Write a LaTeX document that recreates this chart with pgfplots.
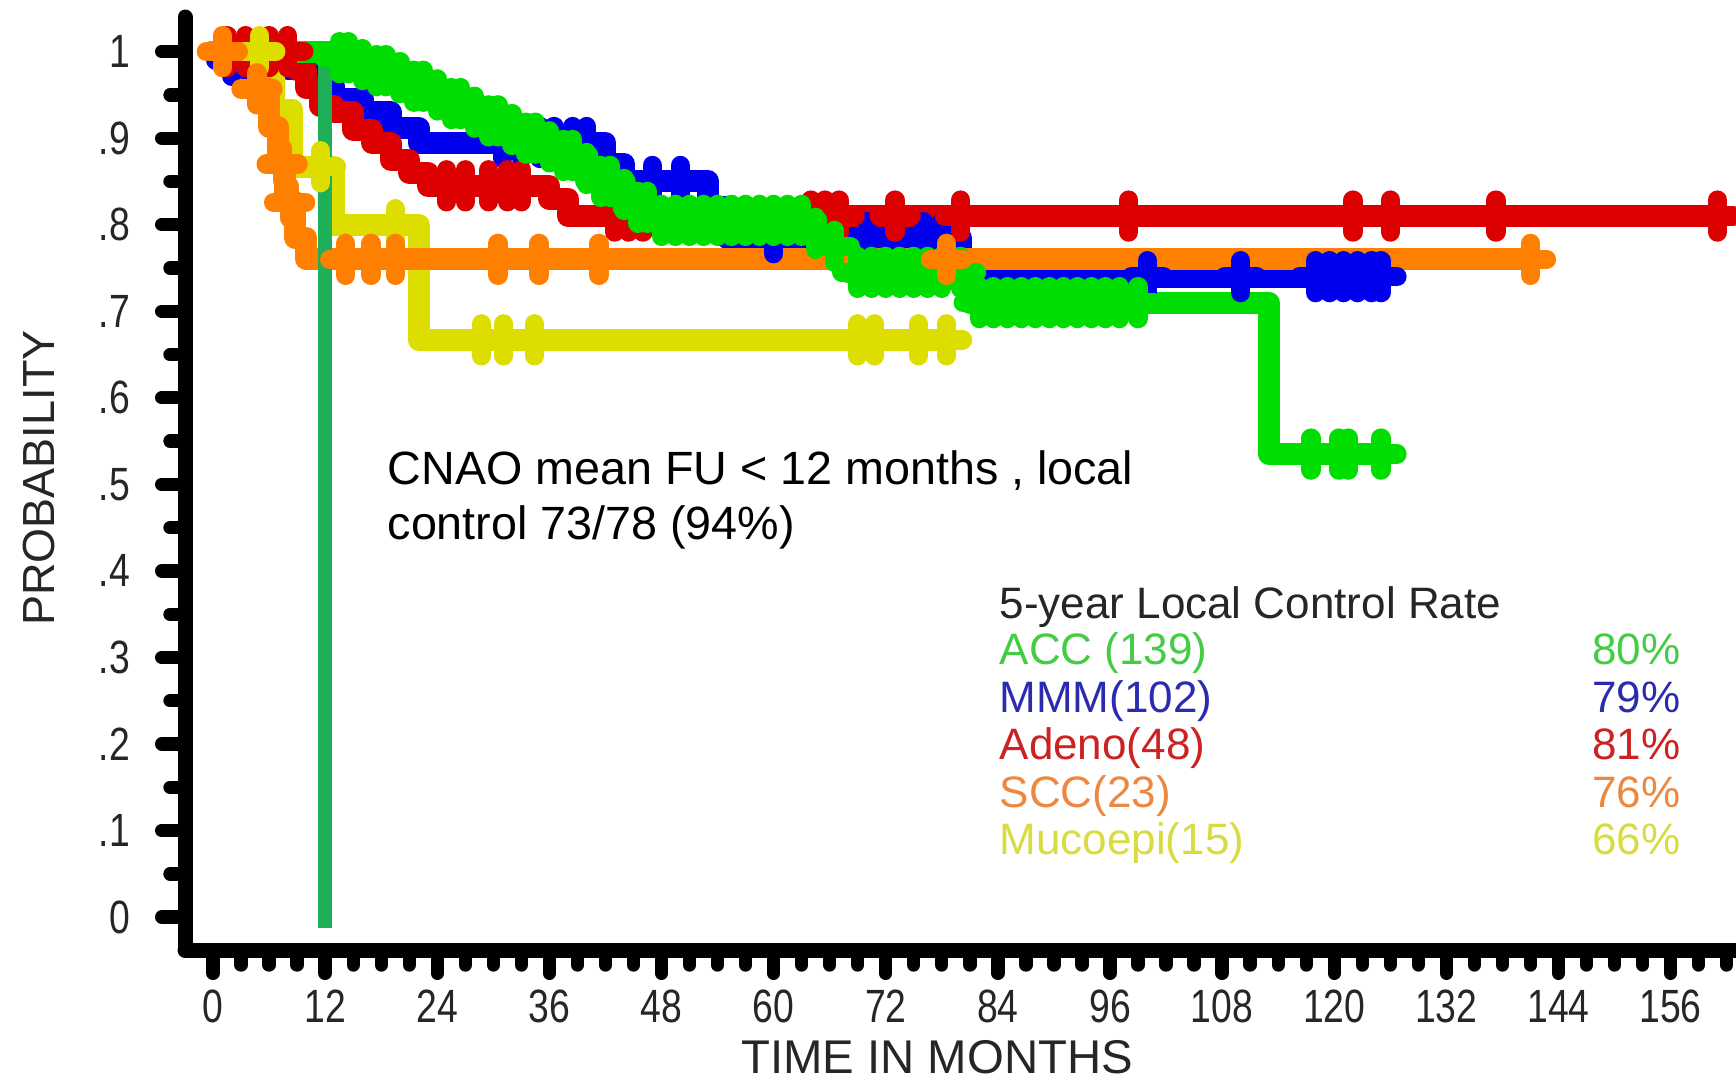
\documentclass[border=0pt]{standalone}
\usepackage{fontspec}
\setmainfont{Liberation Sans}
\newfontfamily\tickfont{Liberation Sans}[FakeStretch=0.8]
\usepackage{pgfplots}
\pgfplotsset{compat=1.18}
\definecolor{cG}{HTML}{00DD00}
\definecolor{cB}{HTML}{0000EE}
\definecolor{cR}{HTML}{DD0000}
\definecolor{cO}{HTML}{FF8000}
\definecolor{cY}{HTML}{DDDD00}
\definecolor{cV}{HTML}{1EB058}
\definecolor{tG}{HTML}{44CC44}
\definecolor{tB}{HTML}{2B2BB0}
\definecolor{tR}{HTML}{CC2222}
\definecolor{tO}{HTML}{EE8840}
\definecolor{tY}{HTML}{D8DC40}
\pgfplotsset{
  km/.style={const plot, line width=6.6pt, line join=round, line cap=round, mark=none},
  cens/.style={only marks, mark=+, mark size=4.8pt, mark options={line width=5.8pt, line cap=round}},
}
\begin{document}
\begin{tikzpicture}
\useasboundingbox (0,0) rectangle (520.8pt,325.2pt);
\begin{axis}[
  at={(55.5pt,40.2pt)}, anchor=south west,
  scale only axis, width=465.3pt, height=279.9pt,
  xmin=-3, xmax=163, ymin=-0.038, ymax=1.04,
  axis x line=bottom, axis y line=left,
  axis line style={line width=4.5pt, -, line cap=round, black},
  tick align=outside,
  major tick length=7pt, minor tick length=4.5pt,
  every tick/.style={line width=4pt, line cap=round, black},
  xtick={0,12,24,36,48,60,72,84,96,108,120,132,144,156},
  xticklabels={0,12,24,36,48,60,72,84,96,108,120,132,144,156},
  minor xtick={3,6,9,15,18,21,27,30,33,39,42,45,51,54,57,63,66,69,75,78,81,87,90,93,99,102,105,111,114,117,123,126,129,135,138,141,147,150,153,159,162},
  ytick={0,0.1,0.2,0.3,0.4,0.5,0.6,0.7,0.8,0.9,1},
  yticklabels={0,.1,.2,.3,.4,.5,.6,.7,.8,.9,1},
  minor ytick={0.05,0.15,0.25,0.35,0.45,0.55,0.65,0.75,0.85,0.95},
  xticklabel style={font=\tickfont\fontsize{14}{16}\selectfont, text=black!85, yshift=-1.5pt},
  yticklabel style={font=\tickfont\fontsize{14}{16}\selectfont, text=black!85, xshift=-6pt},
  clip=false,
]
% MMM (blue)
\addplot[km, cB] coordinates {(0,1) (1,0.99) (8,0.98) (11,0.96) (13,0.945) (16,0.93) (19,0.912) (22,0.895) (42,0.87) (44,0.85) (53,0.82) (55,0.785) (80,0.74) (125,0.74)};
\addplot[cens, cB] coordinates {(2,0.99) (4,0.99) (31,0.895) (33,0.895) (35,0.895) (36.5,0.895) (38.5,0.895) (40,0.895) (47,0.85) (50,0.85) (60,0.785) (70,0.785) (73,0.785) (76,0.785) (78,0.785) (100,0.74) (110,0.74) (118,0.74) (119.5,0.74) (121,0.74) (122.5,0.74) (124,0.74) (125,0.74)};
% Adeno (red)
\addplot[km, cR] coordinates {(0,1) (9,0.979) (10,0.958) (11.5,0.937) (13,0.93) (15,0.91) (17,0.895) (19,0.875) (21,0.86) (23,0.845) (36,0.83) (38,0.81) (161,0.81)};
\addplot[cens, cR] coordinates {(1.5,1) (3.5,1) (6,1) (8,1) (25,0.845) (27,0.845) (29.5,0.845) (31.5,0.845) (33,0.845) (43,0.81) (44.5,0.81) (46,0.81) (64,0.81) (65.5,0.81) (67,0.81) (73,0.81) (80,0.81) (98,0.81) (122,0.81) (126,0.81) (137.3,0.81) (161,0.81)};
% ACC (green)
\addplot[km, cG] coordinates {(0,1) (13,0.993) (15,0.985) (17,0.978) (19,0.97) (21,0.96) (23,0.95) (25,0.94) (27,0.93) (29,0.92) (31,0.91) (33,0.90) (35,0.89) (37,0.88) (39,0.865) (41,0.85) (43,0.835) (45,0.82) (47,0.805) (64,0.79) (66,0.775) (68,0.745) (81,0.71) (113,0.535) (125,0.535)};
\addplot[cens, cG] coordinates {(13.5,0.993) (14.5,0.993) (16,0.985) (17.5,0.978) (18.5,0.978) (20,0.97) (21.5,0.96) (22.5,0.96) (24,0.95) (25.5,0.94) (26.5,0.94) (28,0.93) (29.5,0.92) (30.5,0.92) (32,0.91) (33.5,0.90) (34.5,0.90) (36,0.89) (37.5,0.88) (38.5,0.88) (40,0.865) (41.5,0.85) (42.5,0.85) (44,0.835) (45.5,0.82) (46.5,0.82) (48,0.805) (49.5,0.805) (51,0.805) (52.5,0.805) (54,0.805) (55.5,0.805) (57,0.805) (58.5,0.805) (60,0.805) (61.5,0.805) (63,0.805) (64.5,0.79) (66.5,0.775) (69,0.745) (70.5,0.745) (72,0.745) (73.5,0.745) (75,0.745) (76.5,0.745) (78,0.745) (80,0.745) (82,0.71) (83.5,0.71) (85,0.71) (86.5,0.71) (88,0.71) (89.5,0.71) (91,0.71) (92.5,0.71) (94,0.71) (95.5,0.71) (97,0.71) (99,0.71) (117.5,0.535) (120.5,0.535) (121.5,0.535) (125,0.535)};
% Mucoepi (yellow)
\addplot[km, cY] coordinates {(0,1) (6.5,0.933) (8.5,0.867) (13,0.80) (22,0.667) (78.5,0.667)};
\addplot[cens, cY] coordinates {(5,1) (11.5,0.867) (19.5,0.80) (28.7,0.667) (31.1,0.667) (34.4,0.667) (69,0.667) (70.8,0.667) (75.5,0.667) (78.5,0.667)};
% SCC (orange)
\addplot[km, cO] coordinates {(0,1) (4,0.957) (6,0.913) (7,0.87) (7.7,0.826) (8.8,0.785) (10,0.76) (141,0.76)};
\addplot[cens, cO] coordinates {(1,1) (4.7,0.957) (7.4,0.87) (8.2,0.826) (14.2,0.76) (16.9,0.76) (19.5,0.76) (30.5,0.76) (34.9,0.76) (41.3,0.76) (78.5,0.76) (141,0.76)};
% CNAO 12-month line
\addplot[cV, sharp plot, line width=4pt, line cap=butt, mark=none] coordinates {(12,0.993) (12,-0.013)};
\end{axis}
\node[anchor=base west, inner sep=0pt, font=\fontsize{14}{16}\selectfont] at (116.1pt,180pt) {CNAO mean FU < 12 months , local};
\node[anchor=base west, inner sep=0pt, font=\fontsize{14}{16}\selectfont] at (116.1pt,163.5pt) {control 73/78 (94\%)};
\begin{scope}[every node/.style={font=\fontsize{13.2}{15}\selectfont, inner sep=0pt}]
\node[anchor=base west, text=black!85] at (299.7pt,139.8pt) {5-year Local Control Rate};
\node[anchor=base west, text=tG] at (299.7pt,126pt) {ACC (139)};
\node[anchor=base west, text=tB] at (299.7pt,111.6pt) {MMM(102)};
\node[anchor=base west, text=tR] at (299.7pt,97.5pt) {Adeno(48)};
\node[anchor=base west, text=tO] at (299.7pt,83.1pt) {SCC(23)};
\node[anchor=base west, text=tY] at (299.7pt,69pt) {Mucoepi(15)};
\node[anchor=base east, text=tG] at (504.3pt,126pt) {80\%};
\node[anchor=base east, text=tB] at (504.3pt,111.6pt) {79\%};
\node[anchor=base east, text=tR] at (504.3pt,97.5pt) {81\%};
\node[anchor=base east, text=tO] at (504.3pt,83.1pt) {76\%};
\node[anchor=base east, text=tY] at (504.3pt,69pt) {66\%};
\end{scope}
\node[anchor=base, font=\fontsize{14.2}{16}\selectfont, text=black!85, inner sep=0pt] at (281.1pt,3.2pt) {TIME IN MONTHS};
\node[rotate=90, anchor=center, font=\fontsize{13.5}{16}\selectfont, text=black!85, inner sep=0pt] at (11.7pt,181.8pt) {PROBABILITY};
\end{tikzpicture}
\end{document}
